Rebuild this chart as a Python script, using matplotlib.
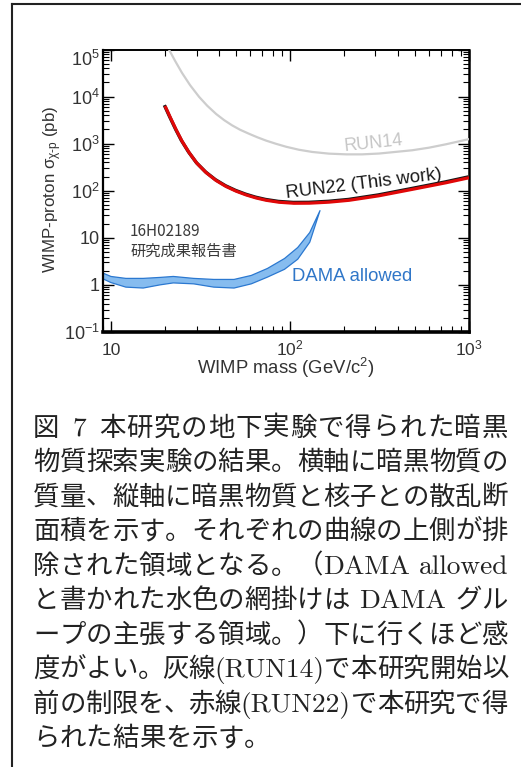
import numpy as np
import matplotlib
matplotlib.use("Agg")
import matplotlib.pyplot as plt
import matplotlib.patheffects as pe
from matplotlib.lines import Line2D
from matplotlib.font_manager import FontProperties
from matplotlib.ticker import FixedLocator, LogLocator, NullFormatter

plt.rcParams['font.family'] = ['Liberation Sans', 'Noto Sans CJK JP', 'DejaVu Sans']
plt.rcParams['mathtext.fontset'] = 'custom'
plt.rcParams['mathtext.rm'] = 'Liberation Sans'
plt.rcParams['mathtext.it'] = 'Liberation Sans'
plt.rcParams['mathtext.bf'] = 'Liberation Sans:bold'
plt.rcParams['mathtext.sf'] = 'Liberation Sans'

# ---------------------------------------------------------------- data
run14_mass = [21.1, 22.8, 24.9, 27.6, 31.0, 34.4, 38.6, 42.8, 47.4, 52.6, 59.0, 65.5,
              73.5, 83.6, 95.0, 112, 133, 165, 206, 253, 314, 481, 598, 744, 1000]
run14_xsec = [9.75e4, 5.67e4, 3.17e4, 1.75e4, 9.86e3, 6.41e3, 4.27e3, 3.16e3, 2.45e3,
              1.97e3, 1.62e3, 1.37e3, 1.16e3, 991, 860, 743, 667, 614, 593, 593, 617,
              724, 822, 971, 1250]

run22_mass = [20.0, 21.4, 23.1, 24.9, 27.3, 30.2, 34.0, 38.6, 43.9, 49.9, 56.8, 64.6,
              73.5, 86.9, 105, 128, 165, 214, 314, 481, 744, 1000]
run22_xsec = [6310, 3600, 1954, 1125, 641, 380, 241, 165, 123, 98.1, 81.5, 70.3,
              62.8, 57.0, 54.3, 54.5, 57.3, 62.8, 78.3, 107, 148, 189]

dama_mass = [8.7, 9.9, 12.0, 15.0, 18.7, 22.1, 28.7, 37.2, 48.3, 60.3, 74.2, 92.5, 109.6, 128, 146]
dama_upper = [1.91, 1.55, 1.41, 1.41, 1.48, 1.55, 1.41, 1.34, 1.34, 1.63, 2.29, 3.73, 6.38, 13.3, 38.8]
dama_lower = [1.45, 1.15, 0.92, 0.88, 1.03, 1.13, 1.08, 0.92, 0.88, 1.08, 1.50, 2.20, 3.60, 8.30, 38.8]

x_ticks = [10, 100, 1000]
x_ticklabels = ['10', r'$10^2$', r'$10^3$']
y_ticks = [0.1, 1, 10, 100, 1e3, 1e4, 1e5]
y_ticklabels = [r'$10^{-1}$', '1', '10', r'$10^2$', r'$10^3$', r'$10^4$', r'$10^5$']

x_label = r'WIMP mass (GeV/c$^2$)'
y_label = r'WIMP-proton $\sigma_{\chi\text{-p}}$ (pb)'

caption_lines = [
    "図 7 本研究の地下実験で得られた暗黒",
    "物質探索実験の結果。横軸に暗黒物質の",
    "質量、縦軸に暗黒物質と核子との散乱断",
    "面積を示す。それぞれの曲線の上側が排",
    "除された領域となる。（DAMA allowed",
    "と書かれた水色の網掛けは DAMA グル",
    "ープの主張する領域。）下に行くほど感",
    "度がよい。灰線(RUN14)で本研究開始以",
    "前の制限を、赤線(RUN22)で本研究で得",
    "られた結果を示す。",
]

# ---------------------------------------------------------------- figure
W, H, DPI = 521, 767, 100
PT = 72.0 / DPI  # points per pixel

fig = plt.figure(figsize=(W / DPI, H / DPI), dpi=DPI)
fig.patch.set_facecolor('white')

# frame around the figure block (left and top rules)
fig.add_artist(Line2D([12 / W, 12 / W], [0, 1 - 4.3 / H], transform=fig.transFigure,
                      color='#222222', lw=1.5))
fig.add_artist(Line2D([12 / W, 1], [1 - 4.3 / H, 1 - 4.3 / H], transform=fig.transFigure,
                      color='#222222', lw=1.5))

ax_l, ax_r, ax_t, ax_b = 103, 469, 49.5, 332
ax = fig.add_axes([ax_l / W, 1 - ax_b / H, (ax_r - ax_l) / W, (ax_b - ax_t) / H])
ax.set_xscale('log')
ax.set_yscale('log')
ax.set_xlim(9, 1000)
ax.set_ylim(0.1, 1e5)

ax.fill_between(dama_mass, dama_lower, dama_upper, facecolor='#86bcef',
                edgecolor='#2b78d0', linewidth=0.9, zorder=2)
ax.plot(run14_mass, run14_xsec, color='#cdcdcd', lw=1.6, zorder=3,
        solid_joinstyle='round')
ax.plot(run22_mass, run22_xsec, color='#e00808', lw=2.3, zorder=4,
        solid_capstyle='butt', solid_joinstyle='round',
        path_effects=[pe.Stroke(linewidth=2.4, foreground='#151515', offset=(-0.5, 0.6)),
                      pe.Normal()])

ax.xaxis.set_major_locator(FixedLocator(x_ticks))
ax.set_xticklabels(x_ticklabels)
ax.xaxis.set_minor_locator(LogLocator(base=10, subs=np.arange(2, 10), numticks=50))
ax.xaxis.set_minor_formatter(NullFormatter())
ax.yaxis.set_major_locator(FixedLocator(y_ticks))
ax.set_yticklabels(y_ticklabels)
ax.yaxis.set_minor_locator(LogLocator(base=10, subs=np.arange(2, 10), numticks=50))
ax.yaxis.set_minor_formatter(NullFormatter())

ax.tick_params(which='both', direction='in', top=True, right=True,
               colors='black', labelcolor='#333333')
ax.tick_params(which='major', length=8, width=1.0)
ax.tick_params(which='minor', length=4, width=0.8)
ax.tick_params(axis='x', which='major', pad=16.8, labelsize=12.5)
ax.tick_params(axis='y', which='major', pad=2.5, labelsize=13)
plt.setp(ax.get_xticklabels(), va='baseline')
ax.get_yticklabels()[-1].set_va('top')

for side, lw in (('left', 1.6), ('right', 1.8), ('top', 1.4), ('bottom', 2.6)):
    ax.spines[side].set_linewidth(lw)
    ax.spines[side].set_color('black')

fig.text(285.7 / W, 1 - 374.5 / H, x_label, ha='center', va='baseline',
         fontsize=13.3, color='#333333')
fig.text(53 / W, 1 - 189 / H, y_label, ha='center', va='center', rotation=90,
         fontsize=12.2, color='#333333')

ax.text(0.738, 0.667, 'RUN14', transform=ax.transAxes, ha='center', va='center',
        rotation=6, fontsize=13, color='#c6c6c6')
ax.text(0.712, 0.524, 'RUN22 (This work)', transform=ax.transAxes, ha='center',
        va='center', rotation=7, fontsize=13.3, color='#1a1a1a')
ax.text(0.6795, 0.196, 'DAMA allowed', transform=ax.transAxes, ha='center',
        va='center', fontsize=13.3, color='#2f76c8')
ax.text(0.074, 0.354, '16H02189', transform=ax.transAxes, ha='left', va='center',
        fontsize=11, color='#3a3a3a', family=['Noto Sans CJK JP'])
ax.text(0.074, 0.287, '研究成果報告書', transform=ax.transAxes, ha='left', va='center',
        fontsize=11, color='#3a3a3a', family=['Noto Sans CJK JP'])

# ---------------------------------------------------------------- caption
CJK_PX = 26.4
LAT_PX = 27.4
cjk_font = FontProperties(family='Noto Sans CJK JP', size=CJK_PX * PT)
lat_font = FontProperties(family='cmr10', size=LAT_PX * PT)
renderer = fig.canvas.get_renderer()

CLOSE_PUNCT = set('。、，．）」')
OPEN_PUNCT = set('（「')
cap_left, cap_right = 33.0, 508.0
first_center, line_step = 425.5, 34.5


def build_items(line):
    items = []

    def add_box(text, width, kind, align):
        if items and items[-1][0] == 'box':
            items.append(('glue', 0.0, 1.0, 1.0))
        items.append(('box', text, width, kind, align))

    i = 0
    while i < len(line):
        c = line[i]
        if c == ' ':
            items.append(('glue', 0.333 * LAT_PX, 4.0, 0.11 * LAT_PX))
            i += 1
        elif ord(c) < 128:
            j = i
            while j < len(line) and ord(line[j]) < 128 and line[j] != ' ':
                j += 1
            word = line[i:j]
            w, _, _ = renderer.get_text_width_height_descent(word, lat_font, ismath=False)
            add_box(word, w, 'lat', 'left')
            i = j
        elif c in CLOSE_PUNCT:
            add_box(c, 0.5 * CJK_PX, 'cjk', 'left')
            items.append(('glue', 0.5 * CJK_PX, 0.5, 0.5 * CJK_PX))
            i += 1
        elif c in OPEN_PUNCT:
            items.append(('glue', 0.5 * CJK_PX, 0.5, 0.5 * CJK_PX))
            items.append(('box', c, 0.5 * CJK_PX, 'cjk', 'right'))
            i += 1
        else:
            add_box(c, CJK_PX, 'cjk', 'center')
            i += 1
    while items and items[0][0] == 'glue':
        items.pop(0)
    while items and items[-1][0] == 'glue':
        items.pop()
    return items


for n, line in enumerate(caption_lines):
    items = build_items(line)
    last = n == len(caption_lines) - 1
    natural = sum(it[2] if it[0] == 'box' else it[1] for it in items)
    extra = (cap_right - cap_left) - natural
    glues = [it for it in items if it[0] == 'glue']
    stretch_total = sum(g[2] for g in glues) or 1.0
    shrink_total = sum(g[3] for g in glues) or 1.0
    baseline = first_center + n * line_step + 0.38 * CJK_PX
    x = cap_left
    for it in items:
        if it[0] == 'glue':
            w = it[1]
            if extra > 0 and not last:
                w += extra * it[2] / stretch_total
            elif extra < 0:
                w += extra * it[3] / shrink_total
            x += w
            continue
        _, text, width, kind, align = it
        if align == 'center':
            xp = x + width / 2
        elif align == 'right':
            xp = x + width
        else:
            xp = x
        fig.text(xp / W, 1 - baseline / H, text, ha=align, va='baseline',
                 fontproperties=cjk_font if kind == 'cjk' else lat_font,
                 color='#222222')
        x += width

fig.savefig('out.png', dpi=DPI, facecolor='white')
